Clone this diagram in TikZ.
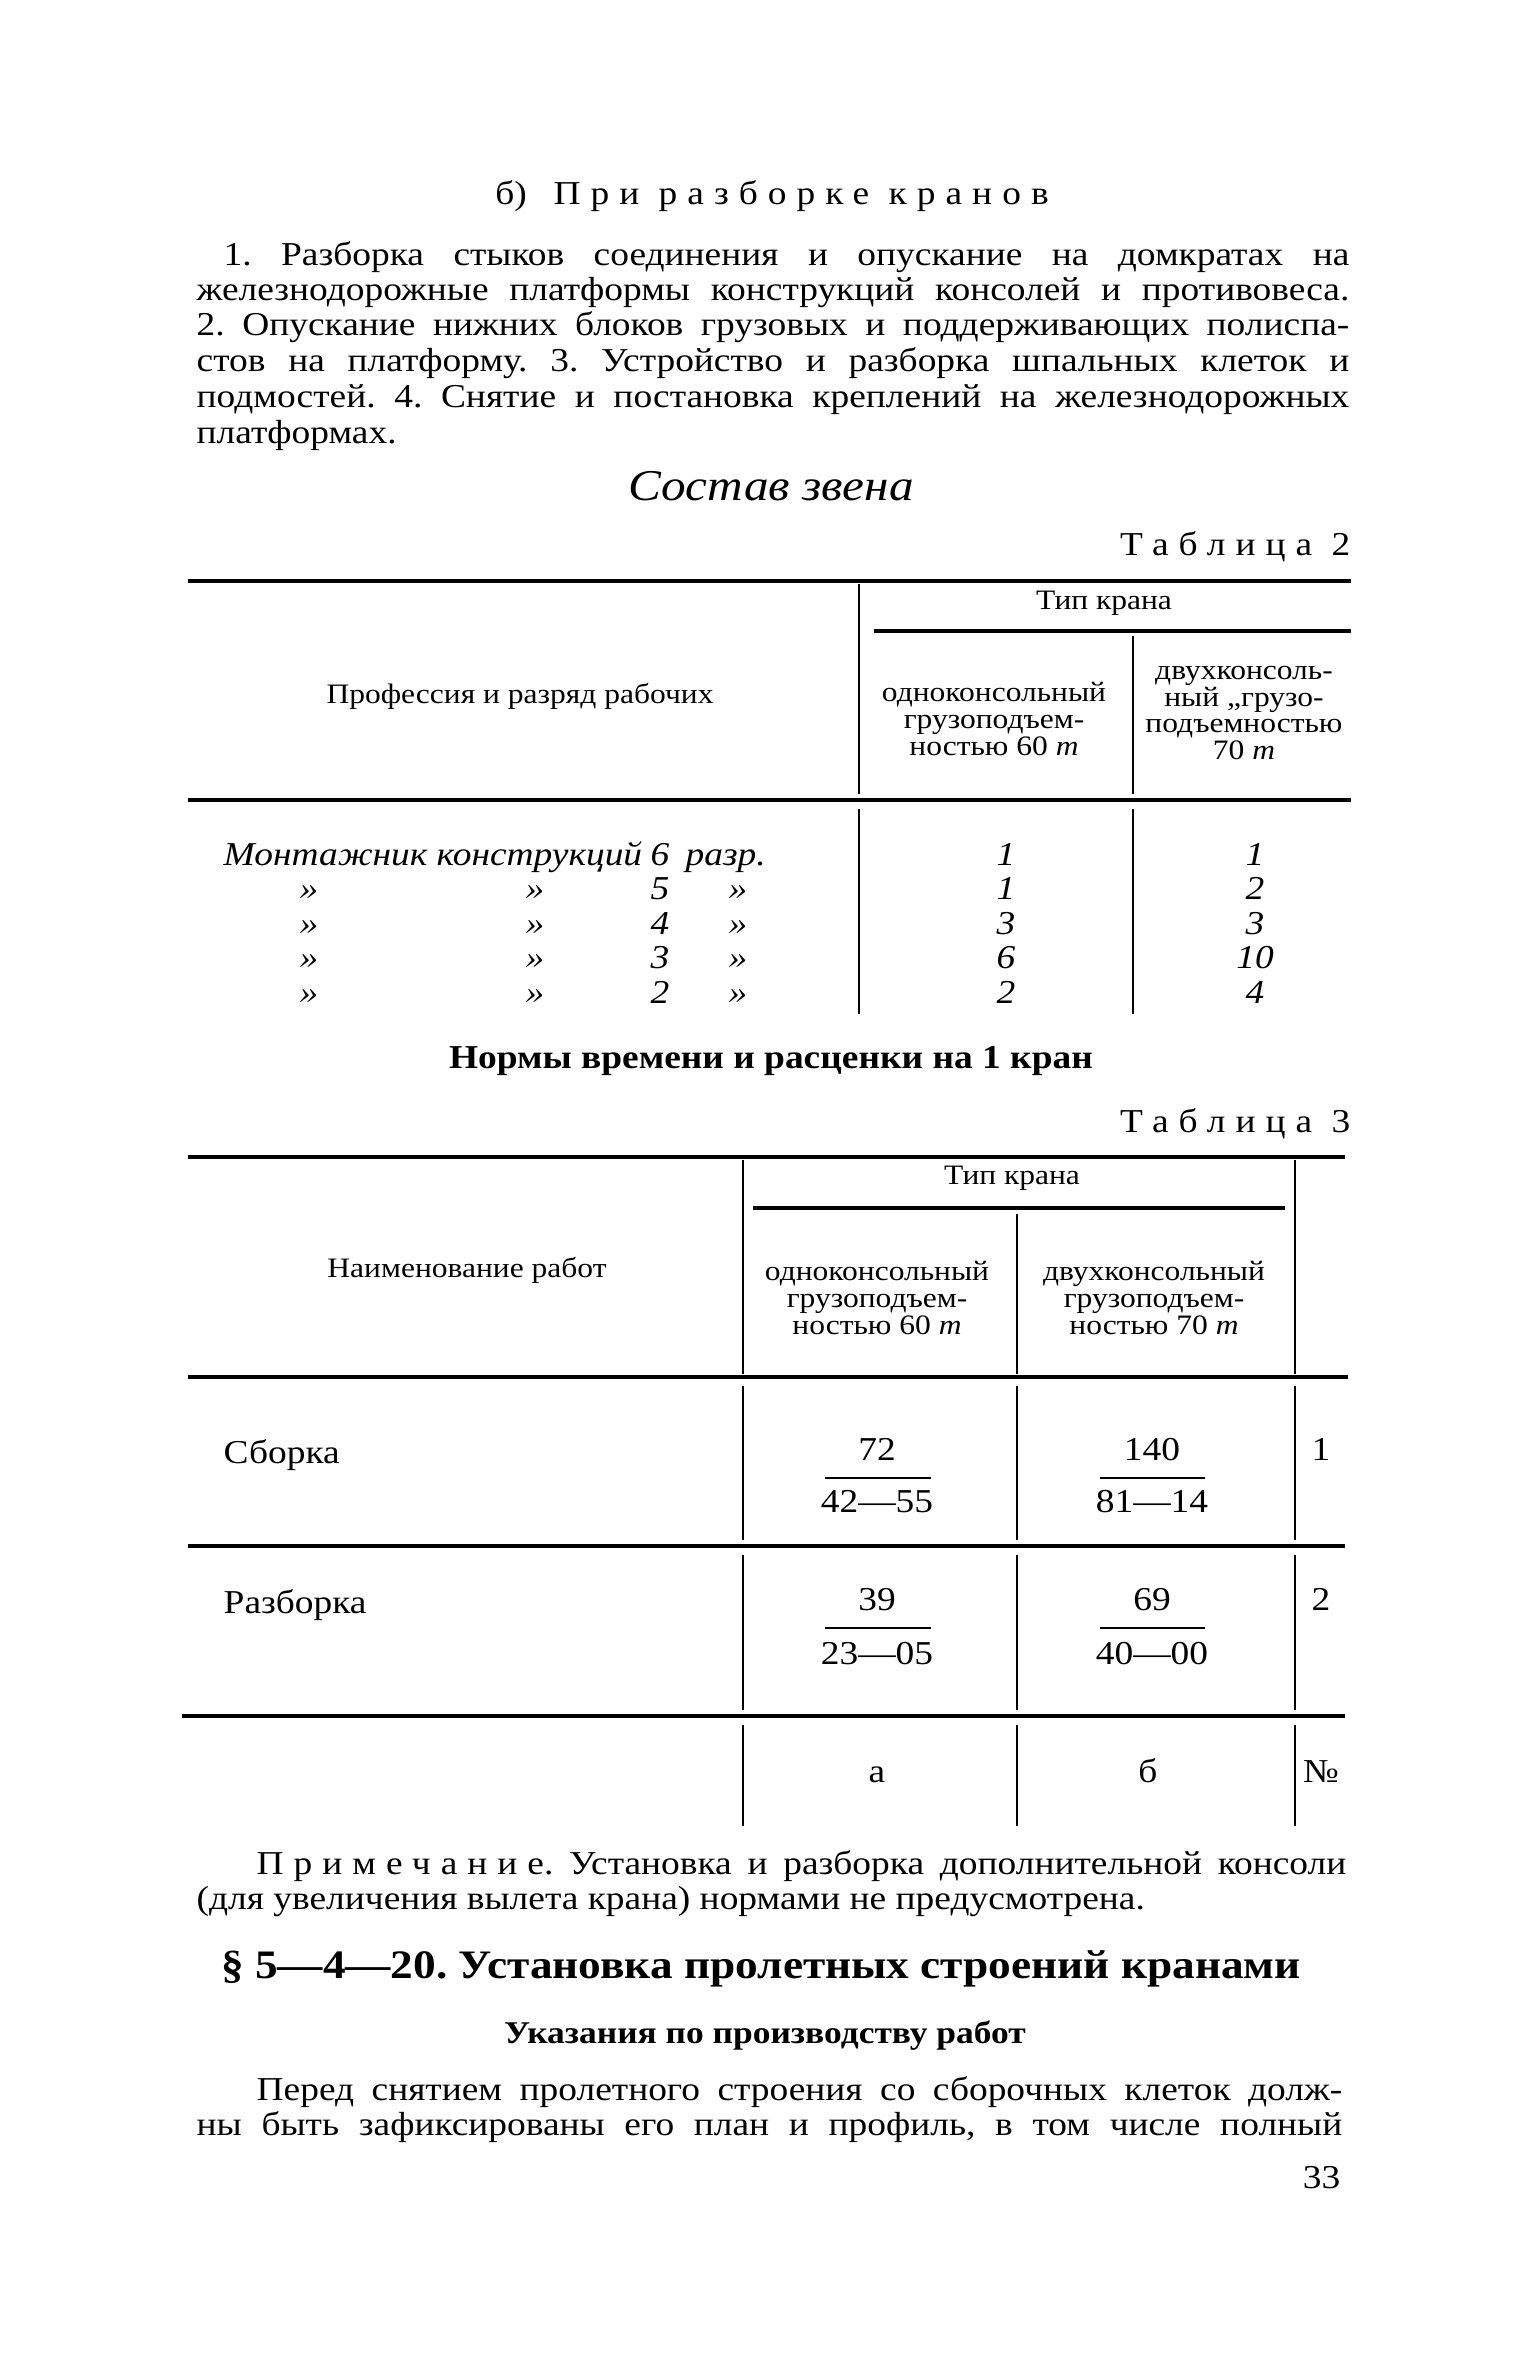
\documentclass[tikz,border=0pt]{standalone}
\usepackage{fontspec}
\setmainfont{Liberation Serif}[FakeStretch=1.12]
\newfontfamily\spacedfont{Liberation Serif}[FakeStretch=1.12,LetterSpace=30]
\usetikzlibrary{positioning}
\frenchspacing

\tikzset{
  lft/.style={anchor=base west, inner sep=0pt, font=\fontsize{9.5}{11}\selectfont},
  ctr/.style={anchor=base, inner sep=0pt, font=\fontsize{9.5}{11}\selectfont},
  rgt/.style={anchor=base east, inner sep=0pt, font=\fontsize{9.5}{11}\selectfont},
  itl/.style={anchor=base, inner sep=0pt, font=\fontsize{9.5}{11}\selectfont\itshape},
  head/.style={inner sep=0pt, align=center, font=\fontsize{8}{7.6}\selectfont},
  rule/.style={line width=0.9pt},
  vline/.style={line width=0.6pt},
  bar/.style={line width=0.7pt}
}

\begin{document}
\begin{tikzpicture}[x=0.01cm,y=-0.01cm]
\useasboundingbox[fill=white] (0,0) rectangle (1535,2362);

% б) heading and paragraph
\node[ctr,font=\fontsize{9.5}{11}\spacedfont] (title) at (772,204) {{\rmfamily б)}\hspace{0.8em}При разборке кранов};
\node[lft] (p1) at (223,265) {\makebox[11.25cm][s]{1. Разборка стыков соединения и опускание на домкратах на}};
\node[lft] (p2) at (196,300) {\makebox[11.52cm][s]{железнодорожные платформы конструкций консолей и противовеса.}};
\node[lft] (p3) at (196,335) {\makebox[11.52cm][s]{2. Опускание нижних блоков грузовых и поддерживающих полиспа-}};
\node[lft] (p4) at (196,371) {\makebox[11.52cm][s]{стов на платформу. 3. Устройство и разборка шпальных клеток и}};
\node[lft] (p5) at (196,407) {\makebox[11.52cm][s]{подмостей. 4. Снятие и постановка креплений на железнодорожных}};
\node[lft] (p6) at (196,443) {платформах.};

% table 2
\node[ctr,font=\fontsize{12.5}{14}\selectfont\itshape] (sostav) at (771,500) {Состав звена};
\node[rgt,font=\fontsize{9.5}{11}\spacedfont] (tab2) at (1351,555) {Таблица 2};

\draw[rule] (188,581) -- (1351,581);
\draw[rule] (874,631) -- (1351,631);
\draw[rule] (188,800) -- (1351,800);
\draw[vline] (859,584) -- (859,794) (1133,636) -- (1133,794);
\draw[vline] (859,809) -- (859,1014) (1133,809) -- (1133,1014);

\node[head] (t2tip) at (1104,603) {Тип крана};
\node[head] (t2prof) at (520,696) {Профессия и разряд рабочих};
\node[head] (t2one) at (994,719) {одноконсольный\\грузоподъем-\\ностью 60 \textit{т}};
\node[head] (t2two) at (1244,713) {двухконсоль-\\ный „грузо-\\подъемностью\\70 \textit{т}};

\node[itl,anchor=base west] (m1) at (223,865) {Монтажник конструкций};
\node[itl] (g1) at (660,865) {6};
\node[itl,anchor=base west] (u1) at (685,865) {разр.};
\node[itl] (a1) at (1006,865) {1};
\node[itl] (b1) at (1255,865) {1};

\node[itl] (m2) at (309,899) {»};
\node[itl] (k2) at (535,899) {»};
\node[itl] (g2) at (660,899) {5};
\node[itl] (u2) at (738,899) {»};
\node[itl] (a2) at (1006,899) {1};
\node[itl] (b2) at (1255,899) {2};

\node[itl] (m3) at (309,934) {»};
\node[itl] (k3) at (535,934) {»};
\node[itl] (g3) at (660,934) {4};
\node[itl] (u3) at (738,934) {»};
\node[itl] (a3) at (1006,934) {3};
\node[itl] (b3) at (1255,934) {3};

\node[itl] (m4) at (309,968) {»};
\node[itl] (k4) at (535,968) {»};
\node[itl] (g4) at (660,968) {3};
\node[itl] (u4) at (738,968) {»};
\node[itl] (a4) at (1006,968) {6};
\node[itl] (b4) at (1255,968) {10};

\node[itl] (m5) at (309,1003) {»};
\node[itl] (k5) at (535,1003) {»};
\node[itl] (g5) at (660,1003) {2};
\node[itl] (u5) at (738,1003) {»};
\node[itl] (a5) at (1006,1003) {2};
\node[itl] (b5) at (1255,1003) {4};

% table 3
\node[ctr,font=\fontsize{9.5}{11}\selectfont\bfseries] (normy) at (771,1068) {Нормы времени и расценки на 1 кран};
\node[rgt,font=\fontsize{9.5}{11}\spacedfont] (tab3) at (1351,1132) {Таблица 3};

\draw[rule] (188,1157) -- (1345,1157);
\draw[rule] (753,1208) -- (1285,1208);
\draw[rule] (188,1377) -- (1348,1377);
\draw[rule] (188,1546) -- (1345,1546);
\draw[rule] (182,1716) -- (1345,1716);
\draw[vline] (743,1160) -- (743,1374) (1295,1160) -- (1295,1374) (1017,1214) -- (1017,1374);
\draw[vline] (743,1386) -- (743,1540) (1017,1386) -- (1017,1540) (1295,1386) -- (1295,1540);
\draw[vline] (743,1555) -- (743,1710) (1017,1555) -- (1017,1710) (1295,1555) -- (1295,1710);
\draw[vline] (743,1725) -- (743,1826) (1017,1725) -- (1017,1826) (1295,1725) -- (1295,1826);

\node[head] (t3tip) at (1012,1178) {Тип крана};
\node[head] (t3name) at (467,1270) {Наименование работ};
\node[head] (t3one) at (877,1298) {одноконсольный\\грузоподъем-\\ностью 60 \textit{т}};
\node[head] (t3two) at (1154,1298) {двухконсольный\\грузоподъем-\\ностью 70 \textit{т}};

\node[lft] (sb) at (223,1463) {Сборка};
\node[ctr] (sb1) at (877,1460) {72};
\draw[bar] (825,1478) -- (931,1478);
\node[ctr] (sb2) at (877,1512) {42—55};
\node[ctr] (sb3) at (1152,1460) {140};
\draw[bar] (1100,1478) -- (1205,1478);
\node[ctr] (sb4) at (1152,1512) {81—14};
\node[ctr] (sbn) at (1321,1460) {1};

\node[lft] (rb) at (223,1613) {Разборка};
\node[ctr] (rb1) at (877,1610) {39};
\draw[bar] (825,1628) -- (931,1628);
\node[ctr] (rb2) at (877,1664) {23—05};
\node[ctr] (rb3) at (1152,1610) {69};
\draw[bar] (1100,1628) -- (1205,1628);
\node[ctr] (rb4) at (1152,1664) {40—00};
\node[ctr] (rbn) at (1321,1610) {2};

\node[ctr] (ca) at (877,1782) {а};
\node[ctr] (cb) at (1148,1782) {б};
\node[ctr] (cn) at (1321,1782) {№};

% note and next section
\node[lft] (note1) at (256,1874) {\makebox[10.89cm][s]{{\spacedfont Примечание}. Установка и разборка дополнительной консоли}};
\node[lft] (note2) at (196,1909) {(для увеличения вылета крана) нормами не предусмотрена.};

\node[ctr,font=\fontsize{11.5}{13}\selectfont\bfseries] (para) at (761,1978) {§ 5—4—20. Установка пролетных строений кранами};
\node[ctr,font=\fontsize{9}{11}\selectfont\bfseries] (ukaz) at (765,2043) {Указания по производству работ};

\node[lft] (q1) at (256,2100) {\makebox[10.85cm][s]{Перед снятием пролетного строения со сборочных клеток долж-}};
\node[lft] (q2) at (196,2135) {\makebox[11.45cm][s]{ны быть зафиксированы его план и профиль, в том числе полный}};
\node[rgt] (page) at (1341,2188) {33};
\end{tikzpicture}
\end{document}
